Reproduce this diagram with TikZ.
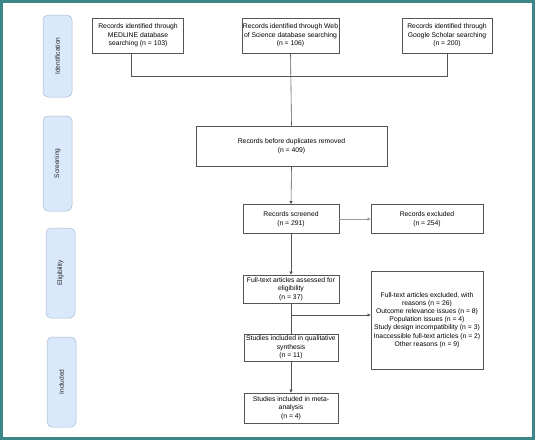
\documentclass[tikz,border=0pt]{standalone}
\usepackage{fontspec}
\setmainfont{Liberation Sans}
\usetikzlibrary{arrows.meta}
\definecolor{frame}{HTML}{3E8585}
\definecolor{lanefill}{HTML}{DAE8FC}
\definecolor{lanedraw}{HTML}{A9B9CF}
\definecolor{boxdraw}{HTML}{555555}
\begin{document}
\begin{tikzpicture}[x=1pt,y=-1pt,
  box/.style={draw=boxdraw,line width=0.7pt,fill=white,align=center,inner sep=1pt,
    font=\fontsize{6.8}{8.5}\selectfont},
  lane/.style={draw=lanedraw,fill=lanefill,rounded corners=5pt,line width=0.5pt},
  lanetext/.style={rotate=90,font=\fontsize{6.6}{8}\selectfont,text=black!85},
  conn/.style={draw=boxdraw,line width=0.6pt},
  arr/.style={conn,-{Triangle[length=3pt,width=3pt]}}]
\useasboundingbox (0,0) rectangle (535,440);
\draw[frame,line width=2.6pt] (1.3,1.3) rectangle (533.7,438.2);
% lanes
\draw[lane] (43,15) rectangle (72,97);
\node[lanetext] (l1) at (57.5,56) {Identification};
\draw[lane] (43,116) rectangle (72,211);
\node[lanetext] (l2) at (57.5,163.5) {Screening};
\draw[lane] (46,228) rectangle (75,318);
\node[lanetext] (l3) at (60.5,273) {Eligibility};
\draw[lane] (47,337) rectangle (76,427);
\node[lanetext] (l4) at (61.5,382) {Included};
% boxes
\node[box,minimum width=91pt,minimum height=35pt] (med) at (138,35.5)
  {Records identified through\\MEDLINE database\\searching (n = 103)};
\node[box,minimum width=95pt,minimum height=35pt] (wos) at (290.5,35.5)
  {Records identified through Web\\of Science database searching\\(n = 106)};
\node[box,minimum width=90pt,minimum height=35pt] (gs) at (447,35.5)
  {Records identified through\\Google Scholar searching\\(n = 200)};
\node[box,minimum width=191pt,minimum height=40pt] (dup) at (291.5,146)
  {Records before duplicates removed\\(n = 409)};
\node[box,minimum width=96pt,minimum height=29pt] (scr) at (291,219)
  {Records screened\\(n = 291)};
\node[box,minimum width=112pt,minimum height=29pt] (exc) at (427,219)
  {Records excluded\\(n = 254)};
\node[box,minimum width=96pt,minimum height=28pt] (ft) at (291,289)
  {Full-text articles assessed for\\eligibility\\(n = 37)};
\node[box,minimum width=112pt,minimum height=98pt,font=\fontsize{6.8}{8.2}\selectfont] (rsn) at (427,320)
  {Full-text articles excluded, with\\reasons (n = 26)\\Outcome relevance issues (n = 8)\\Population issues (n = 4)\\Study design incompatibility (n = 3)\\Inaccessible full-text articles (n = 2)\\Other reasons (n = 9)};
\node[box,minimum width=94pt,minimum height=27pt] (qual) at (291,347.5)
  {Studies included in qualitative\\synthesis\\(n = 11)};
\node[box,minimum width=94pt,minimum height=30pt] (meta) at (291,408)
  {Studies included in meta-\\analysis\\(n = 4)};
% connectors
\coordinate (j1) at (131.5,76);
\coordinate (j3) at (447,76);
\coordinate (jb) at (291,315);
\draw[conn] (j1 |- med.south) -- (j1) -- (j3) -- (gs.south);
\draw[conn] (wos.south) -- (dup.north);
\draw[arr] (dup.south) -- (scr.north);
\draw[arr,draw=boxdraw!60] (scr.east) -- (exc.west);
\draw[arr] (scr.south) -- (ft.north);
\draw[conn] (ft.south) -- (qual.north);
\draw[arr] (jb) -- (jb -| rsn.west);
\draw[arr] (qual.south) -- (meta.north);
\end{tikzpicture}
\end{document}
